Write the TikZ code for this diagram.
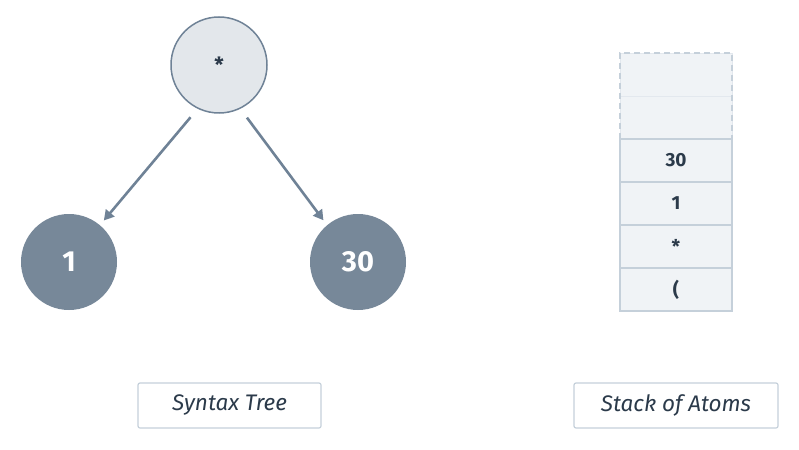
\documentclass[tikz,border=0pt]{standalone}
\usepackage{fontspec}
\setmainfont{Fira Sans}
\usetikzlibrary{arrows.meta,positioning,fit}
\definecolor{slate}{HTML}{778899}
\definecolor{rootfill}{HTML}{E3E7EB}
\definecolor{edgeline}{HTML}{6F8296}
\definecolor{cellfill}{HTML}{F0F3F6}
\definecolor{cellline}{HTML}{C5D0DA}
\definecolor{ink}{HTML}{2B3A4A}
\tikzset{
  root/.style    = {circle, draw=edgeline, fill=rootfill, line width=1.5pt,
                    minimum size=96pt, inner sep=0pt, text=ink,
                    font=\fontsize{21}{25}\selectfont\bfseries},
  leaf/.style    = {circle, fill=slate, minimum size=96pt, inner sep=0pt,
                    text=white, font=\fontsize{29}{34}\selectfont\bfseries},
  cell/.style    = {rectangle, draw=cellline, fill=cellfill, line width=1.5pt,
                    minimum width=112pt, minimum height=43pt, inner sep=0pt,
                    outer sep=0pt, text=ink,
                    font=\fontsize{19}{23}\selectfont\bfseries},
  slot/.style    = {cell, draw=cellfill!70!cellline, line width=0.8pt},
  caption/.style = {rectangle, rounded corners=2pt, draw=cellline,
                    line width=1.2pt, minimum height=45pt, inner sep=0pt,
                    text=ink, font=\fontsize{22.5}{27}\selectfont\itshape},
  arr/.style     = {-{Triangle[length=10pt,width=11pt]}, line width=2.6pt,
                    draw=edgeline},
}
\begin{document}
\begin{tikzpicture}[x=1pt, y=-1pt]
\useasboundingbox (0,0) rectangle (799,449);

%% Syntax tree
\node[root] (times) at (219,65) {*};
\node[leaf] (one) at (69,262) {1};
\node[leaf] (thirty) at (358,262) {30};

\draw[arr, shorten <=11pt, shorten >=6pt] (times.244) -- (one.50);
\draw[arr, shorten <=11pt, shorten >=6pt] (times.296) -- (thirty.130);

%% Stack of atoms
\node[slot] (slotA) at (676,74.5) {};
\node[slot, below=0pt of slotA] (slotB) {};
\node[fit=(slotA)(slotB), draw=cellline, dashed, dash pattern=on 6pt off 4pt,
      line width=1.5pt, inner sep=0pt] (reserve) {};
\node[cell, below=0pt of slotB] (top) {30};
\node[cell, below=0pt of top] (second) {1};
\node[cell, below=0pt of second] (third) {*};
\node[cell, below=0pt of third] (bottom) {(};

%% Captions
\node[caption, minimum width=183pt] (treelabel) at (229.5,405.5) {Syntax Tree};
\node[caption, minimum width=204pt] (stacklabel) at (676,405.5) {Stack of Atoms};

\end{tikzpicture}
\end{document}
